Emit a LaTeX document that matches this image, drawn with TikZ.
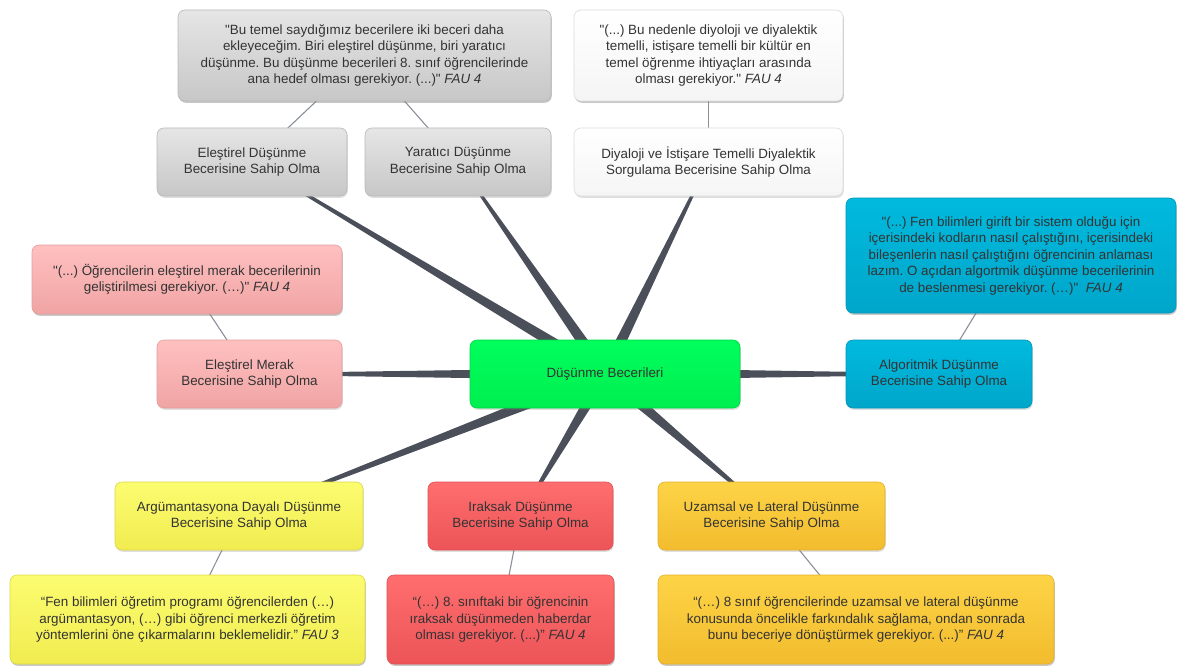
\documentclass[tikz,border=0pt]{standalone}
\usepackage{fontspec}
\setmainfont{Liberation Sans}[Ligatures=TeXOff]
\usetikzlibrary{calc,shadows}
\pgfdeclarelayer{background}
\pgfsetlayers{background,main}
\frenchspacing

\definecolor{txt}{HTML}{333333}
\definecolor{spokecol}{HTML}{4A4F5A}
\definecolor{linkcol}{HTML}{8A8F98}

\tikzset{
  box/.style={rounded corners=7pt, draw, line width=0.6pt, align=center,
    text=txt, font=\fontsize{13.4}{16.5}\selectfont, inner sep=0pt,
    drop shadow={opacity=0.25, shadow xshift=0.8pt, shadow yshift=-1.8pt}},
  quote/.style={box, font=\fontsize{13.6}{16.5}\selectfont},
  graybox/.style={box, top color=gray!20, bottom color=gray!44, draw=gray!55},
  whitebox/.style={box, top color=white, bottom color=gray!8, draw=gray!28},
  bluebox/.style={box, top color={rgb,255:red,0;green,186;blue,222}, bottom color={rgb,255:red,0;green,166;blue,202}, draw={rgb,255:red,0;green,150;blue,185}},
  pinkbox/.style={box, top color={rgb,255:red,255;green,192;blue,192}, bottom color={rgb,255:red,240;green,164;blue,164}, draw={rgb,255:red,226;green,158;blue,158}},
  greenbox/.style={box, top color={rgb,255:red,0;green,255;blue,92}, bottom color={rgb,255:red,0;green,238;blue,80}, draw={rgb,255:red,0;green,215;blue,70}},
  yellowbox/.style={box, top color={rgb,255:red,252;green,252;blue,112}, bottom color={rgb,255:red,240;green,236;blue,80}, draw={rgb,255:red,222;green,215;blue,70}},
  redbox/.style={box, top color={rgb,255:red,255;green,110;blue,110}, bottom color={rgb,255:red,236;green,84;blue,88}, draw={rgb,255:red,222;green,80;blue,84}},
  goldbox/.style={box, top color={rgb,255:red,253;green,212;blue,70}, bottom color={rgb,255:red,242;green,188;blue,46}, draw={rgb,255:red,226;green,176;blue,40}},
  link/.style={draw=linkcol, line width=1.1pt},
}

% tapered spoke from the central node (#1) to a branch node (#2)
\newcommand\spoke[2]{%
  \fill[spokecol] ($(#1.center)!6pt!90:(#2.center)$)
    -- ($(#2.center)!0.8pt!-90:(#1.center)$)
    -- ($(#2.center)!0.8pt!90:(#1.center)$)
    -- ($(#1.center)!6pt!-90:(#2.center)$) -- cycle;}

\begin{document}
\begin{tikzpicture}[x=1pt, y=-1pt]
\useasboundingbox (0,0) rectangle (1177,666);

% quotations
\node[quote, graybox, minimum width=373pt, minimum height=91pt] (qA) at (364.5,55.5)
  {"Bu temel saydığımız becerilere iki beceri daha\\ekleyeceğim. Biri eleştirel düşünme, biri yaratıcı\\düşünme. Bu düşünme becerileri 8. sınıf öğrencilerinde\\ana hedef olması gerekiyor. (...)" \textit{FAU 4}};
\node[quote, whitebox, minimum width=269pt, minimum height=91pt] (qB) at (708.5,55.5)
  {"(...) Bu nedenle diyoloji ve diyalektik\\temelli, istişare temelli bir kültür en\\temel öğrenme ihtiyaçları arasında\\olması gerekiyor." \textit{FAU 4}};
\node[quote, bluebox, minimum width=330pt, minimum height=115pt] (qC) at (1011,255.5)
  {"(...) Fen bilimleri girift bir sistem olduğu için\\içerisindeki kodların nasıl çalıştığını, içerisindeki\\bileşenlerin nasıl çalıştığını öğrencinin anlaması\\lazım. O açıdan algortmik düşünme becerilerinin\\de beslenmesi gerekiyor. (…)"\ \ \textit{FAU 4}};
\node[quote, pinkbox, minimum width=310pt, minimum height=69pt] (qD) at (187,279.5)
  {"(...) Öğrencilerin eleştirel merak becerilerinin\\geliştirilmesi gerekiyor. (…)" \textit{FAU 4}};
\node[quote, yellowbox, minimum width=355pt, minimum height=89pt] (qE) at (187.5,619.5)
  {“Fen bilimleri öğretim programı öğrencilerden (…)\\argümantasyon, (…) gibi öğrenci merkezli öğretim\\yöntemlerini öne çıkarmalarını beklemelidir.” \textit{FAU 3}};
\node[quote, redbox, minimum width=227pt, minimum height=89pt] (qF) at (500.5,619.5)
  {“(…) 8. sınıftaki bir öğrencinin\\ıraksak düşünmeden haberdar\\olması gerekiyor. (...)” \textit{FAU 4}};
\node[quote, goldbox, minimum width=396pt, minimum height=89pt] (qG) at (856,619.5)
  {“(…) 8 sınıf öğrencilerinde uzamsal ve lateral düşünme\\konusunda öncelikle farkındalık sağlama, ondan sonrada\\bunu beceriye dönüştürmek gerekiyor. (...)” \textit{FAU 4}};

% central node and branches
\node[greenbox, minimum width=270pt, minimum height=68pt] (root) at (605,374) {Düşünme Becerileri};
\node[graybox, minimum width=190pt, minimum height=68pt] (b1) at (252,162) {Eleştirel Düşünme\\Becerisine Sahip Olma};
\node[graybox, minimum width=186pt, minimum height=68pt] (b2) at (458,162) {Yaratıcı Düşünme\\Becerisine Sahip Olma};
\node[whitebox, minimum width=269pt, minimum height=68pt] (b3) at (708.5,162) {Diyaloji ve İstişare Temelli Diyalektik\\Sorgulama Becerisine Sahip Olma};
\node[pinkbox, minimum width=185pt, minimum height=68pt] (b4) at (249.5,374) {Eleştirel Merak\\Becerisine Sahip Olma};
\node[bluebox, minimum width=186pt, minimum height=68pt] (b5) at (939,374) {Algoritmik Düşünme\\Becerisine Sahip Olma};
\node[yellowbox, minimum width=248pt, minimum height=68pt] (b6) at (239,516) {Argümantasyona Dayalı Düşünme\\Becerisine Sahip Olma};
\node[redbox, minimum width=185pt, minimum height=68pt] (b7) at (520.5,516) {Iraksak Düşünme\\Becerisine Sahip Olma};
\node[goldbox, minimum width=227pt, minimum height=68pt] (b8) at (771.5,516) {Uzamsal ve Lateral Düşünme\\Becerisine Sahip Olma};

\begin{pgfonlayer}{background}
  % links between branches and their quotations
  \draw[link] (qA.center) -- (b1.center);
  \draw[link] (qA.center) -- (b2.center);
  \draw[link] (qB.center) -- (b3.center);
  \draw[link] (qD.center) -- (b4.center);
  \draw[link] (qC.center) -- (b5.center);
  \draw[link] (qE.center) -- (b6.center);
  \draw[link] (qF.center) -- (b7.center);
  \draw[link] (qG.center) -- (b8.center);
  % spokes from the centre
  \foreach \b in {b1,b2,b3,b4,b5,b6,b7,b8} {\spoke{root}{\b}}
\end{pgfonlayer}
\end{tikzpicture}
\end{document}
